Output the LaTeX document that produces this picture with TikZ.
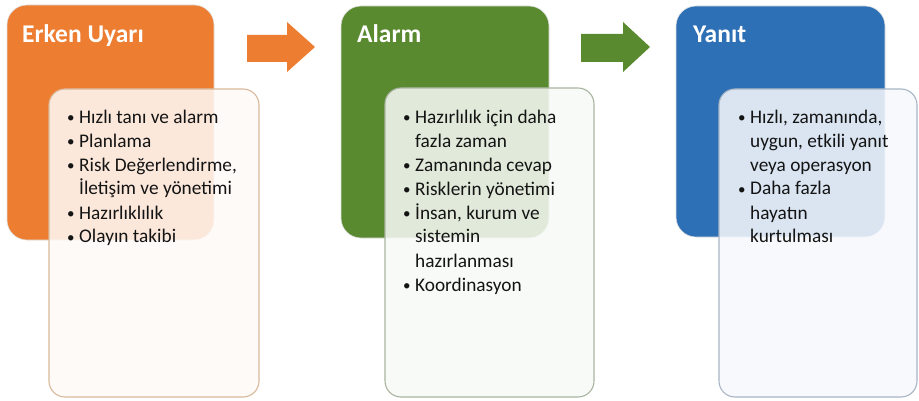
\documentclass[tikz,border=0pt]{standalone}
\usepackage{fontspec}
\setmainfont{Carlito}
\definecolor{cOr}{HTML}{ED7D31}
\definecolor{cGr}{HTML}{5A8A30}
\definecolor{cBl}{HTML}{2E70B5}
\definecolor{bOr}{HTML}{D9B99B}
\definecolor{bGr}{HTML}{A9B5A0}
\definecolor{bBl}{HTML}{A8B6C6}
\newcommand{\bul}{\makebox[12pt][l]{\raisebox{0.5pt}{\fontsize{15}{15}\selectfont •}}}
\newcommand{\ind}{\hspace*{12pt}}
\tikzset{
  phase/.style={rounded corners=20pt, draw=black!12, line width=0.6pt},
  detail/.style={rounded corners=16pt, line width=1.1pt, fill opacity=0.86},
  ttl/.style={anchor=base west, inner sep=0pt, text=white, font=\fontsize{25.5}{30}\selectfont\bfseries},
  lst/.style={anchor=north west, inner sep=0pt, align=left, text=black!92, font=\fontsize{19.3}{24}\selectfont},
}
\begin{document}
\begin{tikzpicture}[x=1pt,y=-1pt]
\useasboundingbox (0,0) rectangle (919,401);
\fill[white] (0,0) rectangle (919,401);
% phase boxes
\path[phase, fill=cOr] (7,5) rectangle (214,240);
\path[phase, fill=cGr] (341,6) rectangle (549,238);
\path[phase, fill=cBl] (676,6) rectangle (885,237);
% detail boxes
\path[detail, draw=bOr, fill=cOr!4!white] (49,89) rectangle (259,397);
\path[detail, draw=bGr, fill=cGr!4!white] (385,88) rectangle (594,397);
\path[detail, draw=bBl, fill=cBl!4!white] (719,89) rectangle (917,397);
% arrows
\fill[cOr] (247,35) -- (287,35) -- (287,22) -- (315,47) -- (287,72) -- (287,62) -- (247,62) -- cycle;
\fill[cGr] (581,34) -- (623,34) -- (623,22) -- (650,47) -- (623,72) -- (623,62) -- (581,62) -- cycle;
% titles
\node[ttl] (t1) at (22,43) {Erken Uyarı};
\node[ttl] (t2) at (357,43) {Alarm};
\node[ttl] (t3) at (693,43) {Yanıt};
% lists
\node[lst] (l1) at (67,106) {\strut\bul Hızlı tanı ve alarm\\
\bul Planlama\\
\bul Risk Değerlendirme,\\
\ind İletişim ve yönetimi\\
\bul Hazırlıklılık\\
\bul Olayın takibi};
\node[lst] (l2) at (403,106) {\strut\bul Hazırlılık için daha\\
\ind fazla zaman\\
\bul Zamanında cevap\\
\bul Risklerin yönetimi\\
\bul İnsan, kurum ve\\
\ind sistemin\\
\ind hazırlanması\\
\bul Koordinasyon};
\node[lst] (l3) at (738,106) {\strut\bul Hızlı, zamanında,\\
\ind uygun, etkili yanıt\\
\ind veya operasyon\\
\bul Daha fazla\\
\ind hayatın\\
\ind kurtulması};
\end{tikzpicture}
\end{document}
